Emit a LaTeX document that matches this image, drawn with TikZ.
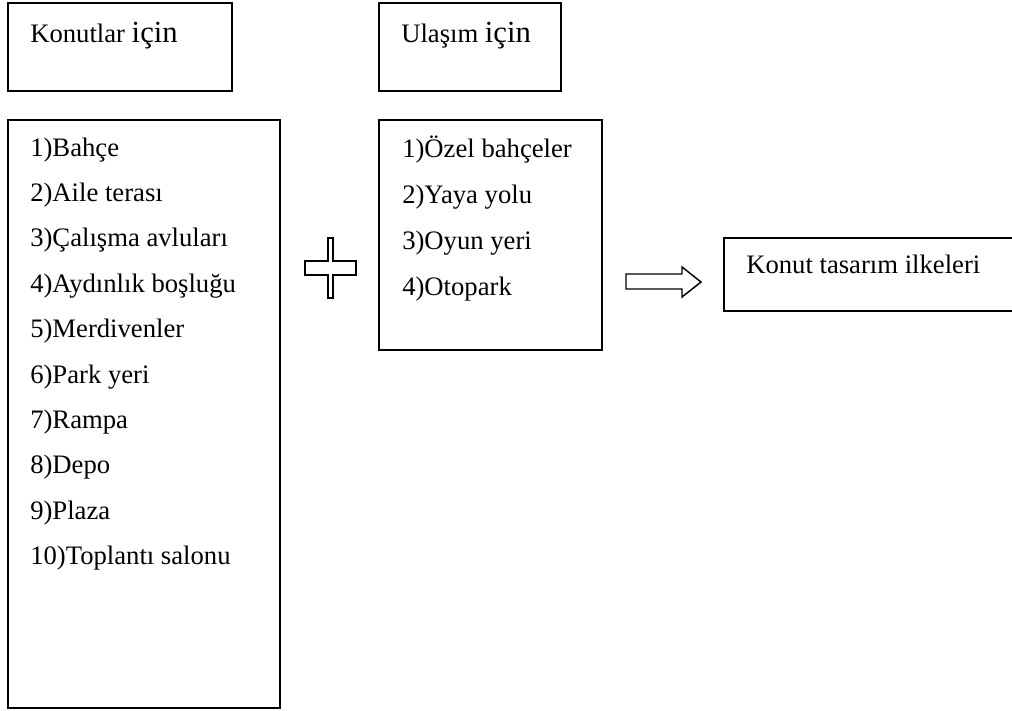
\documentclass[tikz,border=0pt]{standalone}
\usepackage{fontspec}
\setmainfont{Liberation Serif}
\newcommand\bigicin[1]{{\fontsize{23}{27}\selectfont #1}}

\begin{document}
\begin{tikzpicture}[x=0.75pt,y=-0.75pt,
	box/.style={draw=black,line width=1.1pt,line join=miter},
	item/.style={anchor=base west,inner sep=0pt,font=\fontsize{20}{24}\selectfont}]
\useasboundingbox (0,0) rectangle (1012,710);
% headers
\draw[box] (8,3) rectangle (232,91);
\node[item] (konutlar) at (30,43) {Konutlar \bigicin{için}};
\draw[box] (379,3) rectangle (561,91);
\node[item] (ulasim) at (401,43) {Ulaşım \bigicin{için}};
% lists
\draw[box] (8,120) rectangle (280,708);
\foreach \t [count=\i] in {Bahçe,Aile terası,Çalışma avluları,Aydınlık boşluğu,Merdivenler,Park yeri,Rampa,Depo,Plaza,Toplantı salonu}
	\node[item] (konut\i) at (30,{156+(\i-1)*45.4}) {\i)\t};
\draw[box] (379,120) rectangle (602,350);
\foreach \t [count=\i] in {Özel bahçeler,Yaya yolu,Oyun yeri,Otopark}
	\node[item] (ulasim\i) at (402,{157+(\i-1)*46}) {\i)\t};
% plus and arrow
\draw[box] (305,261) -| (328,238) -| (333,261) -| (356,275) -| (333,298) -| (328,275) -- (305,275) -- cycle;
\draw[box] (626,274) -- (682,274) -- (682,267) -- (701,282) -- (682,297) -- (682,289) -- (626,289) -- cycle;
% result
\draw[box] (724,238) rectangle (1020,311);
\node[item] (ilke) at (746,273) {Konut tasarım ilkeleri};
\end{tikzpicture}
\end{document}
